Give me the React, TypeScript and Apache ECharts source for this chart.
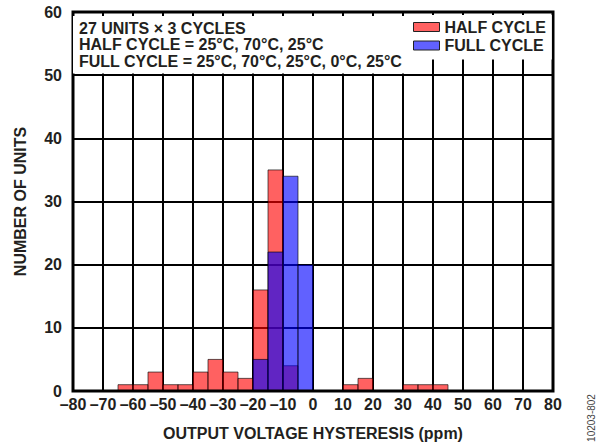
import React, { useEffect, useRef } from "react";
import * as echarts from "echarts";

const BIN_WIDTH = 5;
const halfBinStarts = [-65, -60, -55, -50, -45, -40, -35, -30, -25, -20, -15, -10, 10, 15, 30, 35, 40];
const halfCounts = [1, 1, 3, 1, 1, 3, 5, 3, 2, 16, 35, 4, 1, 2, 1, 1, 1];
const fullBinStarts = [-20, -15, -10, -5];
const fullCounts = [5, 22, 34, 20];
const xTickLabels = ["–80", "–70", "–60", "–50", "–40", "–30", "–20", "–10", "0", "10", "20", "30", "40", "50", "60", "70", "80"];
const yTickLabels = ["0", "10", "20", "30", "40", "50", "60"];
const seriesNames = ["HALF CYCLE", "FULL CYCLE"];
const noteLines = [
  "27 UNITS × 3 CYCLES",
  "HALF CYCLE = 25°C, 70°C, 25°C",
  "FULL CYCLE = 25°C, 70°C, 25°C, 0°C, 25°C",
];

const FONT = "'Liberation Sans', Arial, Helvetica, sans-serif";
const RED = "#ff0000";
const BLUE = "#0000ff";
const TEXT = "#231f20";

function makeData(starts: number[], counts: number[]) {
  return starts.map((s, i) => [s, s + BIN_WIDTH, counts[i]]);
}

function makeRender(color: string) {
  return (params: any, api: any) => {
    const x0 = api.value(0);
    const x1 = api.value(1);
    const v = api.value(2);
    const p0 = api.coord([x0, v]);
    const p1 = api.coord([x1, 0]);
    return {
      type: "rect",
      shape: { x: p0[0], y: p0[1], width: p1[0] - p0[0], height: p1[1] - p0[1] },
      style: { fill: color, stroke: "#000", lineWidth: 1, opacity: 0.62 },
    };
  };
}

export default function App() {
  const ref = useRef<HTMLDivElement>(null);
  useEffect(() => {
    if (!ref.current) return;
    const chart = echarts.init(ref.current, null, { renderer: "svg" });
    chart.setOption({
      animation: false,
      backgroundColor: "#fff",
      textStyle: { fontFamily: FONT },
      grid: {
        left: 73,
        right: 46,
        top: 12,
        bottom: 49,
        show: true,
        borderColor: "#000",
        borderWidth: 3,
        z: 3,
      },
      title: {
        text: noteLines.join("\n"),
        left: 73,
        top: 16,
        padding: [4, 6, 4, 6],
        backgroundColor: "#fff",
        z: 10,
        textStyle: {
          fontFamily: FONT,
          fontSize: 16,
          fontWeight: "bold",
          color: TEXT,
          lineHeight: 16.5,
        },
      },
      legend: {
        orient: "vertical",
        left: 409,
        top: 15,
        padding: [4, 6, 6, 4],
        backgroundColor: "#fff",
        z: 10,
        icon: "rect",
        itemWidth: 26,
        itemHeight: 9,
        itemGap: 2.5,
        itemTextGap: 6,
        textStyle: {
          fontFamily: FONT,
          fontSize: 16,
          fontWeight: "bold",
          color: TEXT,
          lineHeight: 16,
        },
        data: [
          { name: seriesNames[0], itemStyle: { color: "#ff6161", borderColor: "#222", borderWidth: 1 } },
          { name: seriesNames[1], itemStyle: { color: "#6161ff", borderColor: "#222", borderWidth: 1 } },
        ],
      },
      xAxis: {
        type: "value",
        min: -80,
        max: 80,
        interval: 10,
        name: "OUTPUT VOLTAGE HYSTERESIS (ppm)",
        nameLocation: "middle",
        nameGap: 34,
        nameTextStyle: { fontFamily: FONT, fontSize: 16, fontWeight: "bold", color: TEXT },
        axisLine: { show: false },
        axisTick: { show: false },
        axisLabel: {
          margin: 5,
          fontFamily: FONT,
          fontSize: 16,
          fontWeight: "bold",
          color: TEXT,
          formatter: (v: number) => xTickLabels[Math.round((v + 80) / 10)] ?? "",
        },
        splitLine: { show: true, lineStyle: { color: "#000", width: 2 } },
      },
      yAxis: {
        type: "value",
        min: 0,
        max: 60,
        interval: 10,
        name: "NUMBER OF UNITS",
        nameLocation: "middle",
        nameGap: 45,
        nameTextStyle: { fontFamily: FONT, fontSize: 16, fontWeight: "bold", color: TEXT },
        axisLine: { show: false },
        axisTick: { show: false },
        axisLabel: {
          margin: 11,
          fontFamily: FONT,
          fontSize: 16,
          fontWeight: "bold",
          color: TEXT,
          formatter: (v: number) => yTickLabels[Math.round(v / 10)] ?? "",
        },
        splitLine: { show: true, lineStyle: { color: "#000", width: 2 } },
      },
      graphic: [
        {
          type: "text",
          x: 591,
          y: 418,
          rotation: Math.PI / 2,
          style: {
            text: "10203-802",
            fontFamily: FONT,
            fontSize: 10,
            fill: "#444",
            align: "center",
            verticalAlign: "middle",
          },
        },
      ],
      series: [
        {
          name: seriesNames[0],
          type: "custom",
          itemStyle: { color: RED },
          renderItem: makeRender(RED),
          encode: { x: [0, 1], y: 2 },
          data: makeData(halfBinStarts, halfCounts),
          z: 2,
        },
        {
          name: seriesNames[1],
          type: "custom",
          itemStyle: { color: BLUE },
          renderItem: makeRender(BLUE),
          encode: { x: [0, 1], y: 2 },
          data: makeData(fullBinStarts, fullCounts),
          z: 2,
        },
      ],
    });
    return () => chart.dispose();
  }, []);
  return (
    <div
      ref={ref}
      style={{ position: "absolute", left: 0, top: 0, width: 599, height: 446 }}
    />
  );
}
